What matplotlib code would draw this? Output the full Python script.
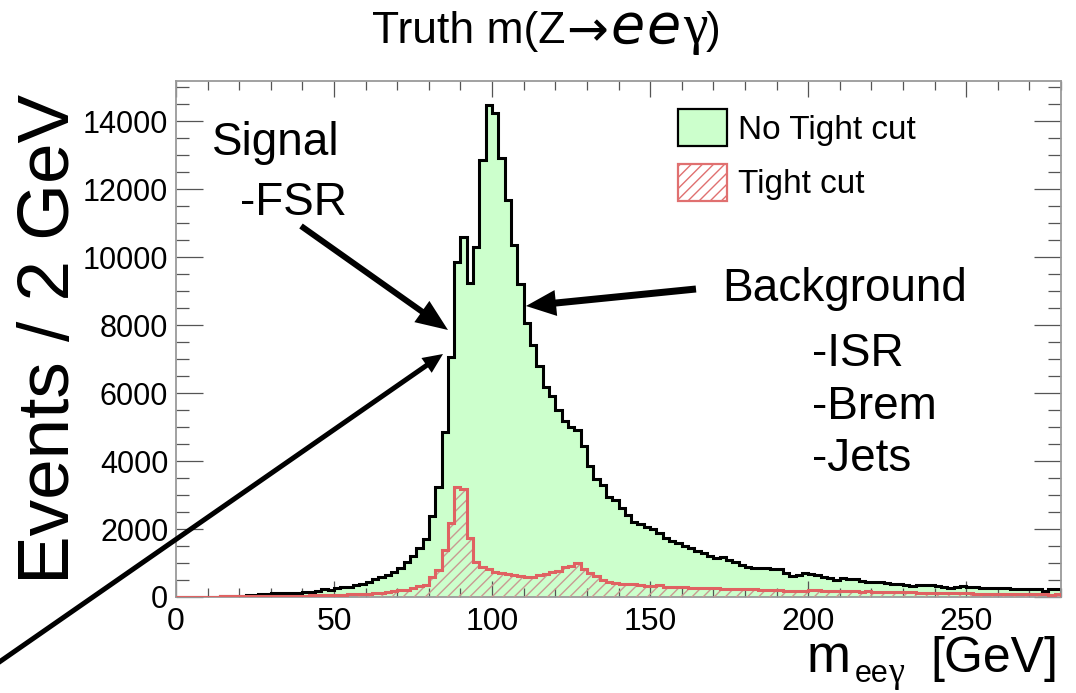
import numpy as np
import matplotlib
matplotlib.use("Agg")
import matplotlib.pyplot as plt
from matplotlib.patches import Patch, FancyArrowPatch
from matplotlib.transforms import IdentityTransform

plt.rcParams['font.family'] = ['Liberation Sans', 'DejaVu Sans']
plt.rcParams['hatch.linewidth'] = 1.0

# ---------------- data ----------------
bin_width = 2
x_min, x_max = 0, 280

no_tight = [
    2, 3, 5, 6, 8, 10, 13, 16, 20, 25,
    35, 45, 70, 88, 95, 105, 110, 118, 125, 132,
    145, 152, 186, 225, 215, 255, 284, 304, 343, 382,
    451, 520, 578, 647, 745, 860, 1030, 1195, 1450, 1700,
    2390, 3235, 4863, 7069, 9863, 10598, 9225, 10304, 12853, 14470,
    14225, 12902, 11676, 10353, 9206, 8049, 7412, 6800, 6180, 5920,
    5510, 5180, 5010, 4900, 4450, 3860, 3470, 3294, 2951, 2853,
    2608, 2412, 2216, 2147, 2069, 1990, 1873, 1725, 1657, 1578,
    1500, 1431, 1363, 1284, 1206, 1137, 1167, 1088, 1039, 941,
    892, 863, 843, 843, 814, 830, 720, 630, 647, 696,
    690, 640, 598, 549, 500, 549, 520, 520, 480, 451,
    431, 431, 402, 372, 372, 353, 323, 353, 353, 353,
    323, 304, 274, 294, 323, 304, 284, 274, 274, 255,
    255, 255, 235, 235, 235, 235, 225, 176, 225, 225,
]

tight = [
    5, 6, 8, 9, 10, 12, 13, 15, 17, 18,
    20, 22, 24, 26, 28, 30, 32, 35, 38, 40,
    43, 46, 50, 55, 60, 65, 70, 78, 88, 95,
    100, 108, 115, 150, 165, 195, 215, 255, 310, 353,
    575, 794, 1382, 2167, 3245, 3167, 1725, 1039, 873, 814,
    745, 696, 676, 647, 620, 590, 600, 640, 676, 735,
    775, 870, 910, 990, 820, 700, 618, 500, 451, 422,
    392, 392, 382, 353, 333, 333, 353, 304, 294, 285,
    290, 275, 270, 265, 255, 260, 245, 240, 250, 235,
    225, 230, 220, 215, 210, 215, 180, 175, 190, 185,
    200, 195, 185, 190, 175, 180, 170, 175, 160, 165,
    150, 155, 145, 150, 140, 135, 140, 130, 125, 130,
    120, 115, 120, 110, 105, 110, 100, 95, 100, 90,
    95, 85, 90, 80, 85, 80, 75, 80, 70, 75,
]

x_ticks = [0, 50, 100, 150, 200, 250]
x_tick_labels = ["0", "50", "100", "150", "200", "250"]
y_ticks = [0, 2000, 4000, 6000, 8000, 10000, 12000, 14000]
y_tick_labels = ["0", "2000", "4000", "6000", "8000", "10000", "12000", "14000"]
y_max = 15180

legend_labels = ["No Tight cut", "Tight cut"]

# ---------------- figure ----------------
W, H = 1076, 693
fig = plt.figure(figsize=(W / 100, H / 100), dpi=100)
ax = fig.add_axes([176 / W, 1 - 597 / H, (1061 - 176) / W, (597 - 81) / H])


def fx(x):
    return x / W


def fy(y):
    return 1 - y / H


edges = np.arange(x_min, x_max + bin_width, bin_width)

green = '#ccffcc'
red = '#e06262'

ax.stairs(no_tight, edges, fill=True, facecolor=green, edgecolor='none',
          linewidth=0, zorder=1)
ax.stairs(no_tight, edges, fill=False, edgecolor='black', linewidth=2.2,
          zorder=2)
ax.stairs(tight, edges, fill=True, facecolor='none', edgecolor='#c99a92',
          hatch='///', linewidth=0, zorder=3)
ax.stairs(tight, edges, fill=False, edgecolor=red, linewidth=2.2, zorder=4)

ax.set_xlim(x_min, x_max)
ax.set_ylim(0, y_max)
ax.set_xticks(x_ticks, x_tick_labels)
ax.set_yticks(y_ticks, y_tick_labels)
ax.set_xticks(np.arange(x_min, x_max + 1, 10), minor=True)
ax.set_yticks(np.arange(0, y_max, 500), minor=True)

ax.tick_params(which='both', direction='in', top=True, right=True,
               color='#555555', width=0.9)
ax.tick_params(axis='x', which='major', length=11.5, pad=7, labelsize=23)
ax.tick_params(axis='x', which='minor', length=6.5)
ax.tick_params(axis='y', which='major', length=19.5, pad=5.5, labelsize=22)
ax.tick_params(axis='y', which='minor', length=9.5)
for s in ax.spines.values():
    s.set_color('#9a9a9a')
    s.set_linewidth(1.3)

# legend
handles = [Patch(facecolor=green, edgecolor='black', linewidth=1.6),
           Patch(facecolor='white', edgecolor='#e07070', hatch='///',
                 linewidth=1.6)]
fs = 24 * 100 / 72
ax.legend(handles, legend_labels, loc='upper left',
          bbox_to_anchor=(fx(678), fy(109)), bbox_transform=fig.transFigure,
          frameon=False, fontsize=24, handlelength=49 / fs,
          handleheight=44 / fs, handletextpad=11 / fs, labelspacing=18 / fs,
          borderpad=0, borderaxespad=0)

# title pieces
fig.text(fx(372), fy(43), 'Truth m(Z', fontsize=32, va='baseline', ha='left')
fig.text(fx(587), fy(32), '\u2192', fontsize=36, family='DejaVu Sans',
         va='center', ha='center')
fig.text(fx(610), fy(43), 'e', fontsize=40, family='DejaVu Sans',
         style='italic', va='baseline', ha='left')
fig.text(fx(646), fy(43), 'e', fontsize=40, family='DejaVu Sans',
         style='italic', va='baseline', ha='left')
fig.text(fx(683), fy(43), '\u03b3', fontsize=40, family='Liberation Serif',
         va='baseline', ha='left')
fig.text(fx(706), fy(43), ')', fontsize=32, va='baseline', ha='left')

# x label pieces
fig.text(fx(807), fy(672), 'm', fontsize=38, va='baseline', ha='left')
fig.text(fx(855), fy(682), 'ee', fontsize=22, va='baseline', ha='left')
fig.text(fx(888), fy(682), '\u03b3', fontsize=26, family='Liberation Serif',
         va='baseline', ha='left')
fig.text(fx(930), fy(672), '[GeV]', fontsize=36, va='baseline', ha='left')

# y label
fig.text(fx(69), fy(339), 'Events / 2 GeV', fontsize=52.5, rotation=90,
         rotation_mode='anchor', ha='center', va='baseline')

# annotations
fig.text(fx(212), fy(155), 'Signal', fontsize=33, va='baseline', ha='left')
fig.text(fx(240), fy(215), '-FSR', fontsize=33, va='baseline', ha='left')
fig.text(fx(722), fy(301), 'Background', fontsize=33, va='baseline', ha='left')
fig.text(fx(812), fy(366), '-ISR', fontsize=33, va='baseline', ha='left')
fig.text(fx(812), fy(419), '-Brem', fontsize=33, va='baseline', ha='left')
fig.text(fx(812), fy(471), '-Jets', fontsize=33, va='baseline', ha='left')


def arrow(x0, y0, x1, y1, tail, hw, hl):
    ms = 10
    px = ms * 100 / 72
    style = (f'simple,head_length={hl / px:.3f},head_width={hw / px:.3f},'
             f'tail_width={tail / px:.3f}')
    p = FancyArrowPatch((x0, H - y0), (x1, H - y1),
                        transform=IdentityTransform(), arrowstyle=style,
                        mutation_scale=ms, color='black', shrinkA=0,
                        shrinkB=0, lw=0, zorder=10)
    fig.add_artist(p)


arrow(301, 226, 448, 330, 6, 26, 32)
arrow(-5, 665, 443, 354, 5, 18, 20)
arrow(696, 289, 526, 306, 7, 26, 30)

fig.savefig('out.png', dpi=100)
